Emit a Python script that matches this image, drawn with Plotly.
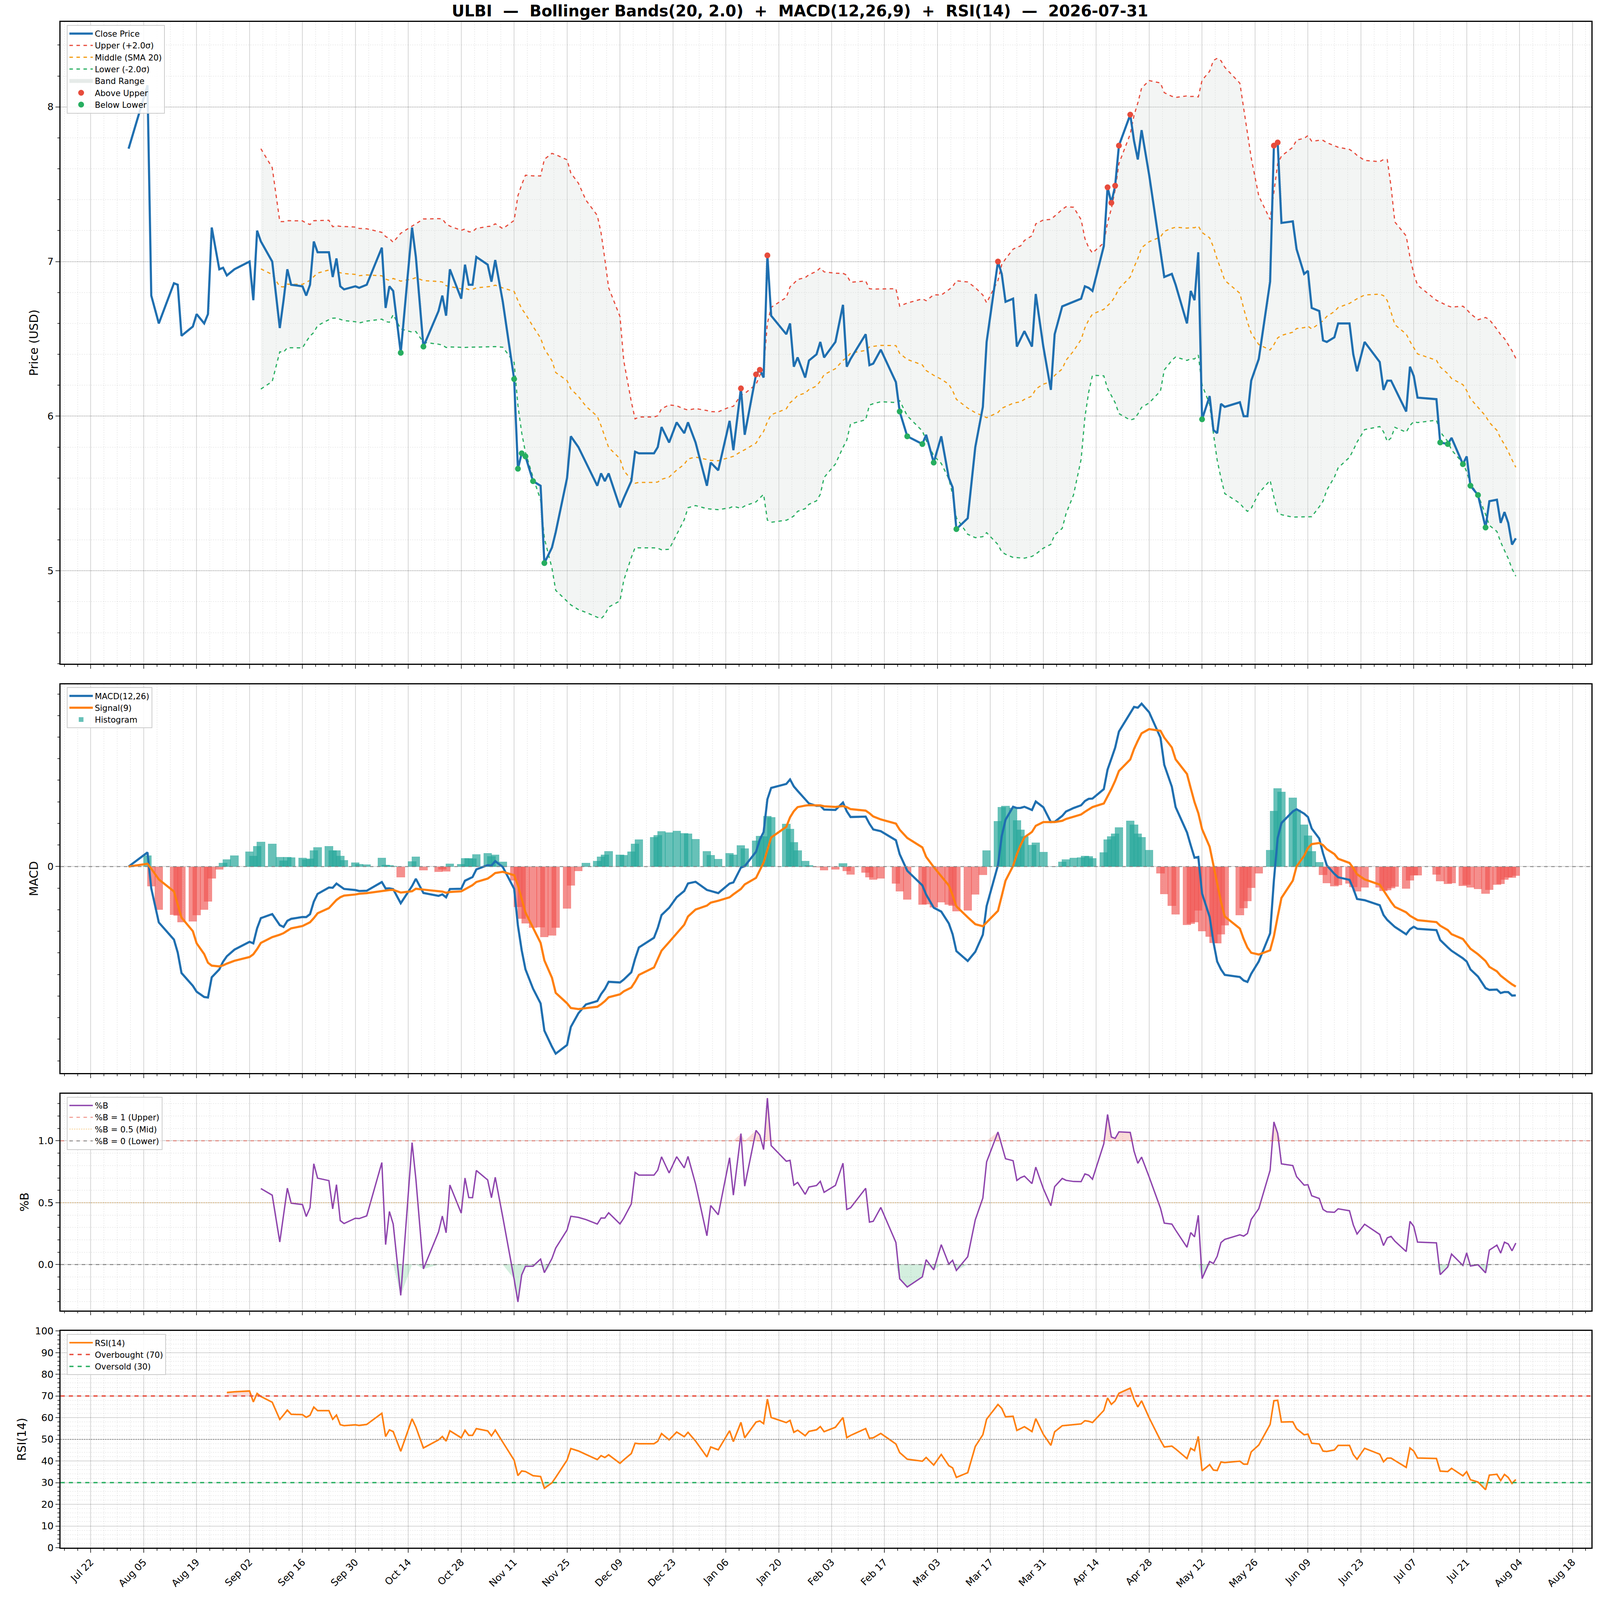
import numpy as np
import pandas as pd
import plotly.graph_objects as go
from plotly.subplots import make_subplots

start_date = "2025-07-22"
day_offset = [10,15,16,18,22,23,24,27,28,30,31,32,34,35,36,38,42,43,44,45,48,50,51,52,53,56,57,58,59,60,
              63,64,65,66,67,70,71,73,77,78,79,80,82,85,86,88,92,93,94,95,98,99,100,101,102,105,106,107,109,112,
              113,114,115,117,119,120,122,123,126,127,129,131,134,135,136,137,140,141,143,144,145,149,150,151,153,155,157,158,160,163,
              164,166,169,170,172,173,176,177,178,179,180,184,185,186,187,189,190,192,193,194,197,199,200,201,205,206,207,209,213,214,
              216,220,221,223,225,227,228,229,232,234,236,237,240,241,242,244,245,246,247,249,250,252,254,255,257,258,260,262,263,264,
              265,268,269,270,271,272,275,276,277,278,280,283,284,286,287,290,291,292,293,294,296,297,298,299,300,304,305,306,307,309,
              312,313,314,315,318,319,321,322,323,325,326,327,329,330,333,334,335,337,341,342,343,344,345,348,349,350,351,356,357,359,
              360,363,364,365,367,369,370,372,373,374,375,376,377]
close = [7.73,8.14,6.78,6.60,6.86,6.85,6.52,6.58,6.66,6.60,6.66,7.22,6.95,6.96,6.91,6.95,7.00,6.75,7.20,7.13,
         7.00,6.57,6.75,6.95,6.85,6.84,6.78,6.85,7.13,7.06,7.06,6.90,7.02,6.84,6.82,6.84,6.83,6.85,7.09,6.70,
         6.84,6.81,6.41,7.22,7.03,6.45,6.68,6.78,6.65,6.95,6.76,6.98,6.85,6.85,7.03,6.98,6.87,7.01,6.74,6.24,
         5.66,5.76,5.74,5.58,5.55,5.05,5.15,5.25,5.60,5.87,5.80,5.70,5.55,5.63,5.58,5.63,5.41,5.47,5.58,5.77,
         5.76,5.76,5.80,5.93,5.83,5.96,5.89,5.96,5.83,5.55,5.70,5.65,5.97,5.78,6.18,5.88,6.27,6.30,6.25,7.04,
         6.65,6.53,6.60,6.32,6.38,6.25,6.36,6.40,6.48,6.38,6.48,6.72,6.32,6.37,6.53,6.33,6.34,6.43,6.22,6.03,
         5.87,5.82,5.88,5.70,5.87,5.60,5.54,5.27,5.34,5.80,6.06,6.48,7.00,6.92,6.74,6.76,6.45,6.50,6.55,6.45,
         6.79,6.45,6.17,6.53,6.71,6.72,6.74,6.76,6.84,6.83,6.81,7.10,7.48,7.38,7.49,7.75,7.95,7.78,7.66,7.85,
         7.56,7.07,6.90,6.92,6.85,6.60,6.81,6.75,7.06,5.98,6.13,5.91,5.89,6.08,6.06,6.09,6.00,6.00,6.23,6.37,
         6.87,7.75,7.77,7.25,7.26,7.08,6.92,6.94,6.70,6.68,6.49,6.48,6.51,6.60,6.60,6.40,6.29,6.48,6.35,6.17,
         6.23,6.23,6.18,6.03,6.32,6.26,6.12,6.11,5.83,5.82,5.86,5.69,5.74,5.55,5.49,5.28,5.45,5.46,5.31,5.38,
         5.31,5.17,5.21]

dates = pd.to_datetime(start_date) + pd.to_timedelta(day_offset, unit="D")
s = pd.Series(close, index=dates)
mid = s.rolling(20).mean()
sd = s.rolling(20).std(ddof=0)
up = mid + 2 * sd
lo = mid - 2 * sd
pb = (s - lo) / (up - lo)
ema12 = s.ewm(span=12, adjust=False).mean()
ema26 = s.ewm(span=26, adjust=False).mean()
macd = ema12 - ema26
sig = macd.ewm(span=9, adjust=False).mean()
hist = macd - sig
d = s.diff()
g = d.clip(lower=0).ewm(alpha=1/14, adjust=False, min_periods=14).mean()
l = (-d.clip(upper=0)).ewm(alpha=1/14, adjust=False, min_periods=14).mean()
rsi = 100 - 100 / (1 + g / l)

above = s > up
below = s < lo

F = "DejaVu Sans"
fig = make_subplots(rows=4, cols=1, shared_xaxes=True, row_heights=[622, 377, 210, 210], vertical_spacing=0.0135)

# Price panel (fill first so lines sit on top)
fig.add_trace(go.Scatter(x=dates, y=lo, mode="lines", line=dict(width=0), showlegend=False, hoverinfo="skip"), 1, 1)
fig.add_trace(go.Scatter(x=dates, y=up, mode="lines", line=dict(width=0), fill="tonexty", fillcolor="rgba(214,222,218,0.3)", showlegend=False, hoverinfo="skip"), 1, 1)
fig.add_trace(go.Scatter(x=[None], y=[None], mode="lines", line=dict(width=14, color="rgba(214,222,218,0.6)"), name="Band Range", legend="legend", legendrank=5), 1, 1)
fig.add_trace(go.Scatter(x=dates, y=up, mode="lines", line=dict(color="#e74c3c", width=3, dash="dash"), name="Upper (+2.0σ)", legend="legend", legendrank=2), 1, 1)
fig.add_trace(go.Scatter(x=dates, y=mid, mode="lines", line=dict(color="#f39c12", width=3, dash="dash"), name="Middle (SMA 20)", legend="legend", legendrank=3), 1, 1)
fig.add_trace(go.Scatter(x=dates, y=lo, mode="lines", line=dict(color="#27ae60", width=3, dash="dash"), name="Lower (-2.0σ)", legend="legend", legendrank=4), 1, 1)
fig.add_trace(go.Scatter(x=dates, y=s, mode="lines", line=dict(color="#1f6fb0", width=5.5), name="Close Price", legend="legend", legendrank=1), 1, 1)
fig.add_trace(go.Scatter(x=dates[above], y=s[above], mode="markers", marker=dict(color="#e74c3c", size=15), name="Above Upper", legend="legend", legendrank=6), 1, 1)
fig.add_trace(go.Scatter(x=dates[below], y=s[below], mode="markers", marker=dict(color="#27ae60", size=15), name="Below Lower", legend="legend", legendrank=7), 1, 1)

# MACD panel
hcol = ["rgba(38,166,154,0.7)" if v >= 0 else "rgba(239,83,80,0.65)" for v in hist]
fig.add_trace(go.Bar(x=dates, y=hist, marker=dict(color=hcol, line=dict(width=0)), width=2.2 * 86400000, name="Histogram", legend="legend2", legendrank=3), 2, 1)
fig.add_trace(go.Scatter(x=dates, y=macd, mode="lines", line=dict(color="#1f6fb0", width=5.5), name="MACD(12,26)", legend="legend2", legendrank=1), 2, 1)
fig.add_trace(go.Scatter(x=dates, y=sig, mode="lines", line=dict(color="#ff7f0e", width=5.5), name="Signal(9)", legend="legend2", legendrank=2), 2, 1)
fig.add_hline(y=0, line=dict(color="gray", width=2, dash="dash"), row=2, col=1)

# %B panel
one = pd.Series(1.0, index=dates).where(pb.notna())
zero = pd.Series(0.0, index=dates).where(pb.notna())
fig.add_trace(go.Scatter(x=dates, y=one, mode="lines", line=dict(width=0), showlegend=False, hoverinfo="skip"), 3, 1)
fig.add_trace(go.Scatter(x=dates, y=np.maximum(pb, 1).where(pb.notna()), mode="lines", line=dict(width=0), fill="tonexty", fillcolor="rgba(231,76,60,0.2)", showlegend=False, hoverinfo="skip"), 3, 1)
fig.add_trace(go.Scatter(x=dates, y=zero, mode="lines", line=dict(width=0), showlegend=False, hoverinfo="skip"), 3, 1)
fig.add_trace(go.Scatter(x=dates, y=np.minimum(pb, 0).where(pb.notna()), mode="lines", line=dict(width=0), fill="tonexty", fillcolor="rgba(39,174,96,0.2)", showlegend=False, hoverinfo="skip"), 3, 1)
fig.add_trace(go.Scatter(x=dates, y=pb, mode="lines", line=dict(color="#8e44ad", width=3.5), name="%B", legend="legend3"), 3, 1)
xr = [pd.Timestamp("2025-07-01"), pd.Timestamp("2026-09-01")]
for yv, c, nm in [(1, "rgba(231,76,60,0.6)", "%B = 1 (Upper)"), (0.5, "rgba(243,156,18,0.4)", "%B = 0.5 (Mid)"), (0, "rgba(100,100,100,0.7)", "%B = 0 (Lower)")]:
    fig.add_trace(go.Scatter(x=xr, y=[yv, yv], mode="lines",
                             line=dict(color=c, width=2.5, dash="dash" if yv != 0.5 else "dot"), name=nm, legend="legend3"), 3, 1)

# RSI panel
s70 = pd.Series(70.0, index=dates).where(rsi.notna())
s30 = pd.Series(30.0, index=dates).where(rsi.notna())
fig.add_trace(go.Scatter(x=dates, y=s70, mode="lines", line=dict(width=0), showlegend=False, hoverinfo="skip"), 4, 1)
fig.add_trace(go.Scatter(x=dates, y=np.maximum(rsi, 70).where(rsi.notna()), mode="lines", line=dict(width=0), fill="tonexty", fillcolor="rgba(231,76,60,0.2)", showlegend=False, hoverinfo="skip"), 4, 1)
fig.add_trace(go.Scatter(x=dates, y=s30, mode="lines", line=dict(width=0), showlegend=False, hoverinfo="skip"), 4, 1)
fig.add_trace(go.Scatter(x=dates, y=np.minimum(rsi, 30).where(rsi.notna()), mode="lines", line=dict(width=0), fill="tonexty", fillcolor="rgba(39,174,96,0.2)", showlegend=False, hoverinfo="skip"), 4, 1)
fig.add_trace(go.Scatter(x=dates, y=rsi, mode="lines", line=dict(color="#ff7f0e", width=4), name="RSI(14)", legend="legend4"), 4, 1)
fig.add_trace(go.Scatter(x=xr, y=[70, 70], mode="lines", line=dict(color="#e74c3c", width=3.5, dash="dash"), name="Overbought (70)", legend="legend4"), 4, 1)
fig.add_trace(go.Scatter(x=xr, y=[30, 30], mode="lines", line=dict(color="#27ae60", width=3.5, dash="dash"), name="Oversold (30)", legend="legend4"), 4, 1)
fig.add_trace(go.Scatter(x=xr, y=[50, 50], mode="lines", line=dict(color="gray", width=2, dash="dot"), showlegend=False), 4, 1)

ax_common = dict(showgrid=True, gridcolor="rgba(0,0,0,0.16)", gridwidth=2, showline=True, linecolor="black", linewidth=2.5, mirror=True,
                 ticks="outside", ticklen=10, tickwidth=2, tickfont=dict(size=25, family=F, color="black"), zeroline=False,
                 minor=dict(showgrid=True, gridcolor="rgba(0,0,0,0.07)", griddash="dot", gridwidth=1.5, ticks="outside", ticklen=5))
for i in range(1, 5):
    fig.update_xaxes(ax_common, row=i, col=1, range=["2025-07-14", "2026-08-23"], tick0="2025-07-22", dtick=14 * 86400000,
                     tickformat="%b %d", tickangle=-45, showticklabels=(i == 4))
    fig.update_xaxes(row=i, col=1, minor=dict(dtick=3.5 * 86400000, tick0="2025-07-22"))
fig.update_yaxes(ax_common, row=1, col=1, range=[4.4, 8.55], tickvals=[5, 6, 7, 8], minor=dict(dtick=0.2))
fig.update_yaxes(ax_common, row=2, col=1, tickvals=[0], ticktext=["0"], minor=dict(showgrid=False))
fig.update_yaxes(ax_common, row=3, col=1, range=[-0.37, 1.38], tickvals=[0, 0.5, 1.0], tickformat=".1f", minor=dict(dtick=0.1))
fig.update_yaxes(ax_common, row=4, col=1, range=[0, 100], dtick=10, minor=dict(dtick=2))
fig.update_yaxes(title_text="Price (USD)", row=1, col=1)
fig.update_yaxes(title_text="MACD", row=2, col=1)
fig.update_yaxes(title_text="%B", row=3, col=1)
fig.update_yaxes(title_text="RSI(14)", row=4, col=1)
fig.update_yaxes(title_font=dict(size=30, family=F, color="black"), title_standoff=15)

leg = dict(font=dict(size=21, family=F, color="black"), bgcolor="rgba(255,255,255,0.85)", bordercolor="#cccccc", borderwidth=2,
           xanchor="left", yanchor="top", tracegroupgap=0, itemwidth=60, traceorder="normal")
dom = lambda ax: fig.layout[ax].domain
fig.update_layout(
    autosize=True, template="none", plot_bgcolor="white", paper_bgcolor="white",
    margin=dict(l=155, r=22, t=56, b=134), bargap=0, barmode="overlay",
    title=dict(text="<b>ULBI  —  Bollinger Bands(20, 2.0)  +  MACD(12,26,9)  +  RSI(14)  —  2026-07-31</b>",
               x=0.5, xanchor="center", y=0.9965, yanchor="top", font=dict(size=40, family=F, color="black")),
    legend=dict(leg, x=0.004, y=dom("yaxis")[1] - 0.002),
    legend2=dict(leg, x=0.004, y=dom("yaxis2")[1] - 0.002),
    legend3=dict(leg, x=0.004, y=dom("yaxis3")[1] - 0.002),
    legend4=dict(leg, x=0.004, y=dom("yaxis4")[1] - 0.002),
    font=dict(family=F),
)
fig.write_html("out.html", default_width="100vw", default_height="100vh", config={"responsive": True, "displayModeBar": False})
with open("out.html", encoding="utf-8") as fh:
    html = fh.read()
html = html.replace("<body>", "<body style=\"margin:0;overflow:hidden\">", 1)
with open("out.html", "w", encoding="utf-8") as fh:
    fh.write(html)
